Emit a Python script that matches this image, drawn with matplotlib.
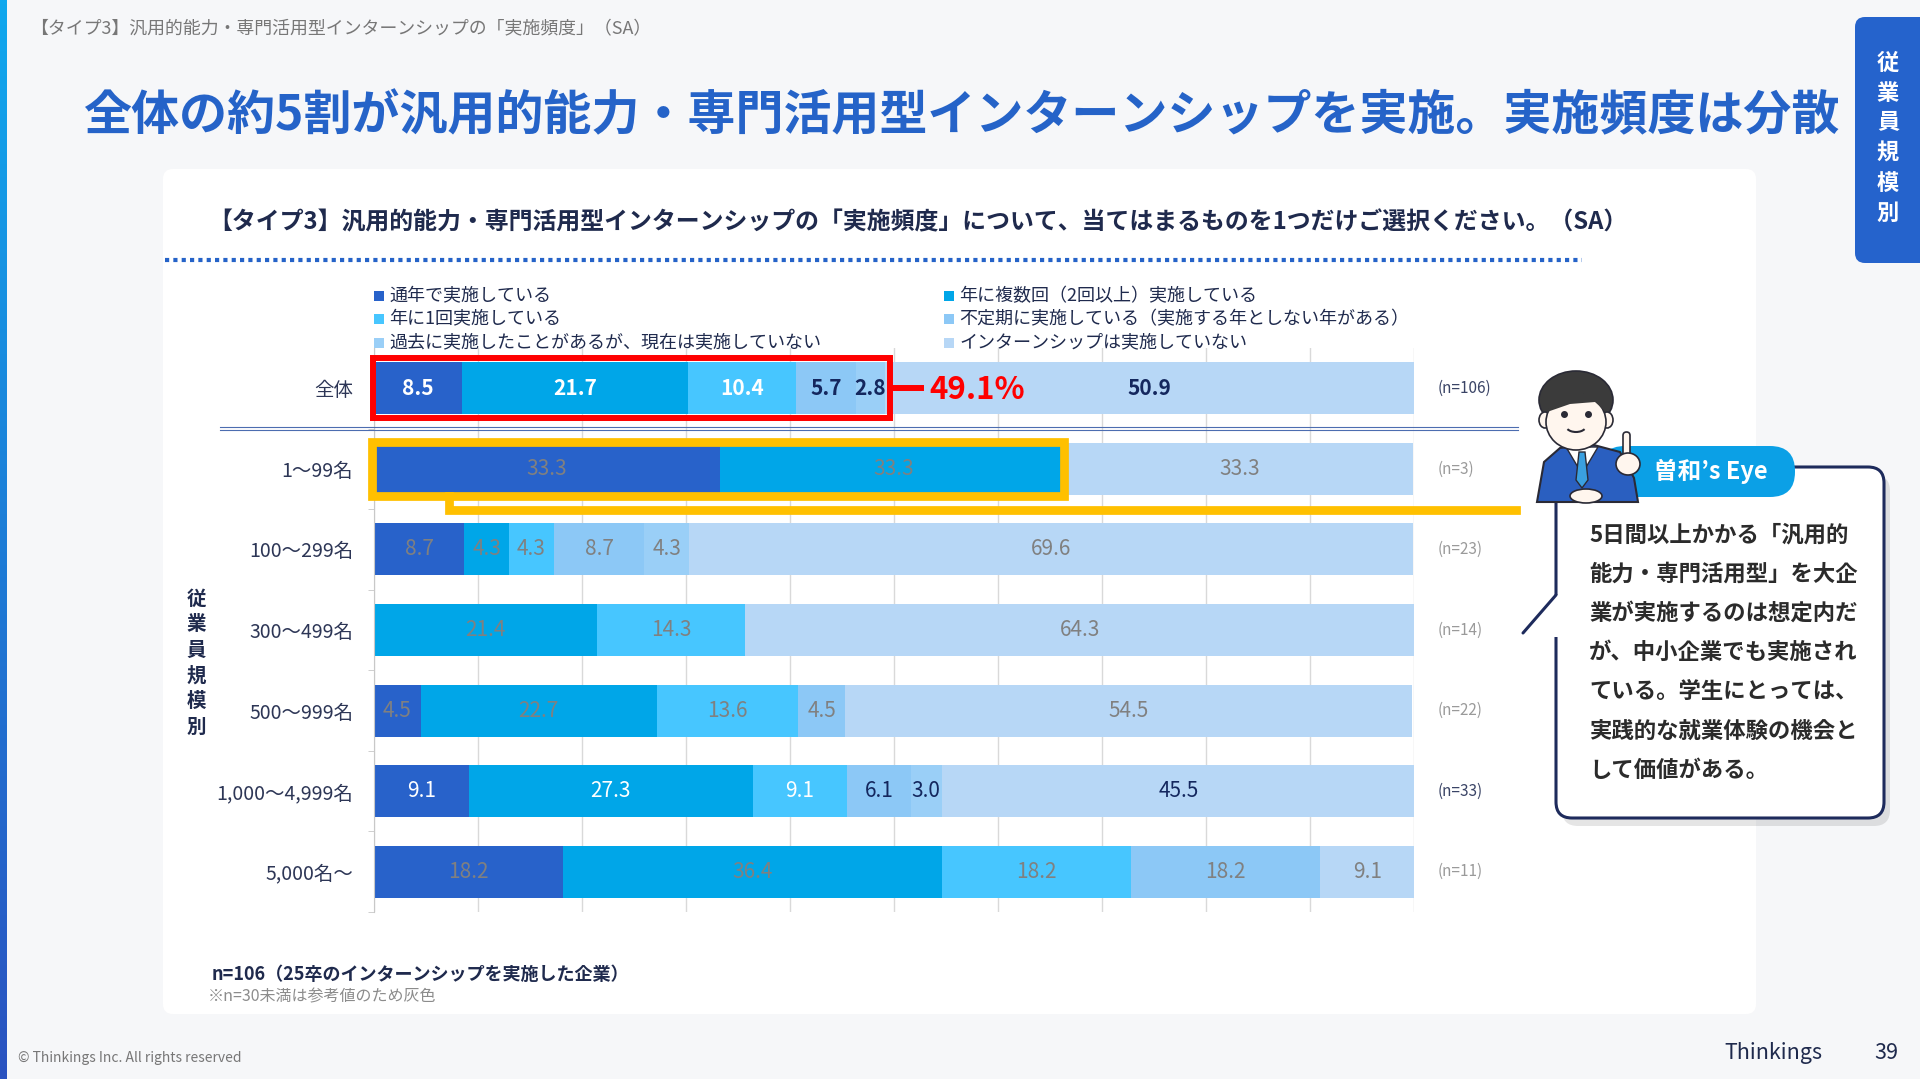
import numpy as np
import matplotlib.pyplot as plt
from matplotlib.patches import Rectangle, FancyBboxPatch, Ellipse, Polygon, Arc
from matplotlib.colors import LinearSegmentedColormap

plt.rcParams['font.family'] = ['Noto Sans CJK JP', 'DejaVu Sans']
NARROW = ['Liberation Sans Narrow', 'Noto Sans CJK JP', 'DejaVu Sans']

# data
categories = ['全体', '1～99名', '100～299名', '300～499名', '500～999名', '1,000～4,999名', '5,000名～']
n_values = [106, 3, 23, 14, 22, 33, 11]
series = ['通年で実施している', '年に複数回（2回以上）実施している', '年に1回実施している',
          '不定期に実施している（実施する年としない年がある）',
          '過去に実施したことがあるが、現在は実施していない', 'インターンシップは実施していない']
values = np.array([
    [8.5, 21.7, 10.4, 5.7, 2.8, 50.9],
    [33.3, 33.3, 0, 0, 0, 33.3],
    [8.7, 4.3, 4.3, 8.7, 4.3, 69.6],
    [0, 21.4, 14.3, 0, 0, 64.3],
    [4.5, 22.7, 13.6, 4.5, 0, 54.5],
    [9.1, 27.3, 9.1, 6.1, 3.0, 45.5],
    [18.2, 36.4, 18.2, 18.2, 0, 9.1],
])
colors = ['#2862CA', '#00A6E8', '#47C6FF', '#8CC8F6', '#9ACFF7', '#B7D7F6']

title = '全体の約5割が汎用的能力・専門活用型インターンシップを実施。実施頻度は分散'
header = '【タイプ3】汎用的能力・専門活用型インターンシップの「実施頻度」（SA）'
question = '【タイプ3】汎用的能力・専門活用型インターンシップの「実施頻度」について、当てはまるものを1つだけご選択ください。（SA）'
comment = ['5日間以上かかる「汎用的', '能力・専門活用型」を大企', '業が実施するのは想定内だ',
           'が、中小企業でも実施され', 'ている。学生にとっては、', '実践的な就業体験の機会と', 'して価値がある。']

NAVY = '#1F2A4D'
GRAY = '#808080'
W, H = 1920, 1079

fig = plt.figure(figsize=(W / 100, H / 100), dpi=100)
fig.patch.set_facecolor('#F6F7F9')

# page layer in pixel coords
pg = fig.add_axes([0, 0, 1, 1])
pg.axis('off')

grad = np.linspace(0, 1, 256).reshape(-1, 1)
cmap = LinearSegmentedColormap.from_list('stripe', ['#10A8EE', '#2A52C0'])
pg.imshow(grad, cmap=cmap, extent=[0, 7, H, 0], aspect='auto')
pg.set_xlim(0, W)
pg.set_ylim(H, 0)

pg.add_patch(FancyBboxPatch((163, 169), 1593, 845, boxstyle='round,pad=0,rounding_size=10',
                            fc='white', ec='none'))
pg.add_patch(FancyBboxPatch((1855, 17), 90, 246, boxstyle='round,pad=0,rounding_size=10',
                            fc='#2563CC', ec='none', clip_on=False))
for i, ch in enumerate('従業員規模別'):
    pg.text(1888, 63 + i * 30, ch, color='white', fontsize=16, fontweight='bold', ha='center', va='center')

pg.text(30, 29, header, fontsize=12.9, color='#777777', va='center')
pg.text(83, 116, title, fontsize=34.6, fontweight='bold', color='#2563C8', va='center')
pg.text(208, 222, question, fontsize=17.2, fontweight='bold', color=NAVY, va='center')
pg.plot([165, 1582], [260, 260], color='#2563C8', lw=3, ls=(0, (1, 1)))

# legend (two columns, row-major)
for k, (name, c) in enumerate(zip(series, colors)):
    col, row = k % 2, k // 2
    x0 = 374 if col == 0 else 944
    y0 = 296 + row * 23.3
    pg.add_patch(Rectangle((x0, y0 - 5), 10, 10, fc=c, ec='none'))
    pg.text(x0 + 15, y0, name, fontsize=13, color=NAVY, va='center')

# left vertical label
for i, ch in enumerate('従業員規模別'):
    pg.text(196, 599 + i * 25.7, ch, fontsize=14, fontweight='bold', color=NAVY, ha='center', va='center')

# footer
pg.text(212, 975, 'n=106（25卒のインターンシップを実施した企業）', fontsize=13, fontweight='bold',
        color=NAVY, va='center')
pg.text(208, 997, '※n=30未満は参考値のため灰色', fontsize=11.5, color='#8C8C8C', va='center')
pg.text(18, 1058, '© Thinkings Inc. All rights reserved', fontsize=10, color='#777777', va='center')
pg.text(1724, 1053, 'Thinkings', fontsize=15.5, color=NAVY, va='center')
pg.text(1898, 1053, '39', fontsize=15.5, color=NAVY, va='center', ha='right')

# callout box
pg.add_patch(FancyBboxPatch((1562, 475), 328, 351, boxstyle='round,pad=0,rounding_size=16',
                            fc='#000000', ec='none', alpha=0.10))
pg.add_patch(FancyBboxPatch((1556, 467), 328, 351, boxstyle='round,pad=0,rounding_size=16',
                            fc='white', ec='#1E2B5C', lw=2.2))
pg.add_patch(Rectangle((1553, 595), 8, 42, fc='white', ec='none'))
pg.plot([1556, 1523], [595, 633], color='#1E2B5C', lw=2.2, solid_capstyle='round')
for i, line in enumerate(comment):
    pg.text(1589, 535 + i * 39.2, line, fontsize=16.1, fontweight='bold', color='#2B2B2B', va='center')

pg.add_patch(FancyBboxPatch((1600, 446), 195, 51, boxstyle='round,pad=0,rounding_size=25',
                            fc='#0BA0E6', ec='none'))
pg.text(1711, 471, '曽和’s Eye', fontsize=17, fontweight='bold', color='white', ha='center', va='center')

# simple character
OUT = '#2A2A35'
SKIN = '#FFF6EE'
pg.add_patch(Polygon([(1537, 502), (1544, 462), (1560, 448), (1590, 444), (1620, 452),
                      (1634, 478), (1638, 502)], closed=True, fc='#2A5FC0', ec=OUT, lw=1.5))
pg.add_patch(Polygon([(1566, 447), (1582, 474), (1598, 447)], closed=True, fc='white', ec=OUT, lw=1))
pg.add_patch(Polygon([(1579, 452), (1585, 452), (1588, 480), (1582, 488), (1576, 480)],
                     closed=True, fc='#3AA0E0', ec=OUT, lw=1))
pg.add_patch(Ellipse((1576, 400), 74, 58, fc='#3B3B3B', ec=OUT, lw=1.2))
pg.add_patch(Ellipse((1545, 420), 12, 16, fc=SKIN, ec=OUT, lw=1.2))
pg.add_patch(Ellipse((1607, 420), 12, 16, fc=SKIN, ec=OUT, lw=1.2))
pg.add_patch(Ellipse((1576, 422), 60, 56, fc=SKIN, ec=OUT, lw=1.2))
pg.add_patch(Polygon([(1547, 412), (1552, 395), (1575, 392), (1600, 395), (1606, 412),
                      (1595, 402), (1570, 404)], closed=True, fc='#3B3B3B', ec='none'))
pg.plot([1564, 1588], [414, 414], ls='none', marker='o', ms=4, color=OUT)
pg.add_patch(Arc((1576, 426), 20, 12, theta1=20, theta2=160, color=OUT, lw=1.5))
pg.add_patch(FancyBboxPatch((1623, 432), 7, 26, boxstyle='round,pad=0,rounding_size=3.5',
                            fc=SKIN, ec=OUT, lw=1.2))
pg.add_patch(Ellipse((1628, 464), 24, 22, fc=SKIN, ec=OUT, lw=1.2))
pg.add_patch(Ellipse((1586, 496), 32, 14, fc=SKIN, ec=OUT, lw=1.2))

# bar chart
ax = fig.add_axes([374 / W, 1 - 912 / H, 1040 / W, 564 / H])
ax.set_facecolor('none')
y = np.arange(len(categories))
left = np.zeros(len(categories))
for j in range(len(series)):
    ax.barh(y, values[:, j], left=left, height=0.645, color=colors[j], zorder=2)
    for i in range(len(categories)):
        v = values[i, j]
        if v <= 0:
            continue
        if n_values[i] >= 30:
            tc = 'white' if j < 3 else '#14275E'
        else:
            tc = GRAY
        ax.text(left[i] + v / 2, i, f'{v:.1f}', ha='center', va='center', color=tc,
                fontsize=15, family=NARROW, fontweight='bold' if i == 0 else 'normal', zorder=4)
    left += values[:, j]

ax.set_xlim(0, 100)
ax.set_ylim(len(categories) - 0.5, -0.5)
ax.set_xticks(np.arange(0, 101, 10))
ax.tick_params(axis='x', length=0, labelbottom=False)
ax.xaxis.grid(True, color='#D9D9D9', lw=1)
ax.set_axisbelow(True)
ax.set_yticks(y)
ax.set_yticklabels(categories, fontsize=14, color='#2D3656', family=NARROW)
ax.tick_params(axis='y', length=0, pad=15)
ax.set_yticks(np.arange(0.5, len(categories), 1), minor=True)
ax.tick_params(axis='y', which='minor', length=4, color='#C8C8C8')
for s in ['top', 'right', 'bottom']:
    ax.spines[s].set_visible(False)
ax.spines['left'].set_color('#C8C8C8')

for i, n in enumerate(n_values):
    ax.text(102.3, i, f'(n={n})', ha='left', va='center', fontsize=11, family=NARROW,
            color='#3A4466' if n >= 30 else '#9A9A9A')

# separator under 全体
for dy in (-0.019, 0.019):
    ax.plot([-14.8, 110], [0.5 + dy] * 2, color='#4C6DB0', lw=0.8, clip_on=False, zorder=3)

# red highlight on 全体
done_all = values[0, :5].sum()
ax.add_patch(Rectangle((-0.1, -0.37), done_all + 0.6, 0.74, fill=False, ec='#FF0000', lw=4.3,
                       clip_on=False, zorder=5))
ax.plot([done_all + 0.8, done_all + 3.5], [0, 0], color='#FF0000', lw=4.3, zorder=5)
ax.text(done_all + 4.3, 0.02, f'{done_all:.1f}%', color='#FF0000', fontsize=22.5, fontweight='bold',
        family=NARROW, va='center', ha='left', zorder=5)

# yellow highlight on 1～99名
big2 = values[1, :2].sum()
ax.add_patch(Rectangle((-0.15, 1 - 0.33), big2 - 0.1, 0.67, fill=False, ec='#FFC000', lw=6.3,
                       clip_on=False, zorder=5))
ax.plot([7.2, 7.2, 109.8], [1.34, 1.51, 1.51], color='#FFC000', lw=6.3, clip_on=False,
        solid_joinstyle='miter', zorder=5)

fig.savefig('out.png', dpi=100, facecolor=fig.get_facecolor())
